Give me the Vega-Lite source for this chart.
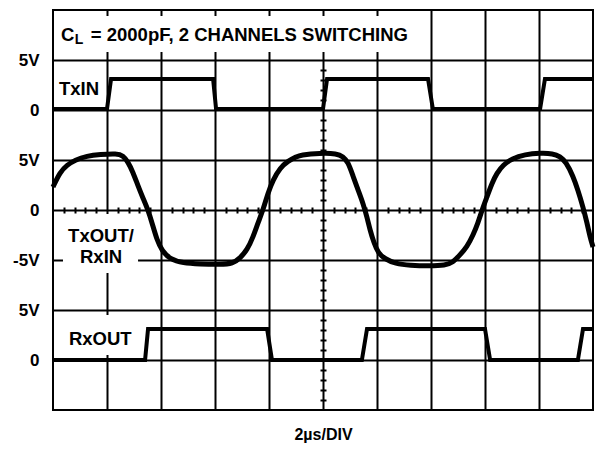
{
  "$schema": "https://vega.github.io/schema/vega-lite/v6.json",
  "width": 540,
  "height": 400,
  "autosize": {"type": "none"},
  "padding": {"left": 53, "top": 10, "right": 5, "bottom": 39},
  "background": "white",
  "config": {
    "view": {"stroke": "black", "strokeWidth": 2},
    "font": "Liberation Sans",
    "axis": {
      "labelFont": "Liberation Sans",
      "labelFontSize": 17,
      "labelFontWeight": "bold",
      "labelColor": "black",
      "tickColor": "black",
      "gridColor": "black",
      "gridWidth": 2,
      "gridOpacity": 1,
      "domain": false,
      "labelOverlap": false,
      "labelFlush": false
    }
  },
  "datasets": {
    "txin": [
      {"t": 0, "v": 0.1}, {"t": 2.0, "v": 0.1}, {"t": 2.15, "v": 3.1}, {"t": 5.93, "v": 3.1}, {"t": 6.04, "v": 0.1},
      {"t": 10.0, "v": 0.1}, {"t": 10.15, "v": 3.1}, {"t": 13.89, "v": 3.1}, {"t": 14.07, "v": 0.1},
      {"t": 18.04, "v": 0.1}, {"t": 18.22, "v": 3.1}, {"t": 20, "v": 3.1}
    ],
    "rxout": [
      {"t": 0, "v": 0}, {"t": 3.41, "v": 0}, {"t": 3.52, "v": 3.1}, {"t": 7.93, "v": 3.1}, {"t": 8.11, "v": 0},
      {"t": 11.44, "v": 0}, {"t": 11.63, "v": 3.1}, {"t": 16.0, "v": 3.1}, {"t": 16.19, "v": 0},
      {"t": 19.44, "v": 0}, {"t": 19.63, "v": 3.1}, {"t": 20, "v": 3.1}
    ],
    "txout": [
      {"t": 0, "v": 2.3}, {"t": 0.26, "v": 3.8}, {"t": 0.52, "v": 4.5}, {"t": 0.81, "v": 5.0}, {"t": 1.26, "v": 5.4},
      {"t": 1.74, "v": 5.55}, {"t": 2.37, "v": 5.65}, {"t": 2.59, "v": 5.45}, {"t": 2.78, "v": 4.8}, {"t": 2.96, "v": 3.8},
      {"t": 3.15, "v": 2.4}, {"t": 3.33, "v": 1.2}, {"t": 3.52, "v": 0}, {"t": 3.67, "v": -1.3}, {"t": 3.85, "v": -3.0},
      {"t": 4.04, "v": -4.1}, {"t": 4.33, "v": -4.9}, {"t": 4.81, "v": -5.3}, {"t": 5.44, "v": -5.4}, {"t": 6.19, "v": -5.45},
      {"t": 6.67, "v": -5.35}, {"t": 6.93, "v": -4.8}, {"t": 7.19, "v": -4.0}, {"t": 7.41, "v": -2.7}, {"t": 7.59, "v": -1.3},
      {"t": 7.78, "v": 0}, {"t": 7.96, "v": 1.7}, {"t": 8.15, "v": 3.0}, {"t": 8.41, "v": 4.2}, {"t": 8.70, "v": 4.9},
      {"t": 9.04, "v": 5.35}, {"t": 9.15, "v": 5.5}, {"t": 9.89, "v": 5.7}, {"t": 10.52, "v": 5.65}, {"t": 10.74, "v": 5.35},
      {"t": 10.93, "v": 4.8}, {"t": 11.11, "v": 3.4}, {"t": 11.30, "v": 2.0}, {"t": 11.48, "v": 0.7}, {"t": 11.63, "v": -0.7},
      {"t": 11.74, "v": -2.0}, {"t": 11.89, "v": -3.3}, {"t": 12.04, "v": -4.3}, {"t": 12.30, "v": -4.9}, {"t": 12.67, "v": -5.35},
      {"t": 13.22, "v": -5.55}, {"t": 13.96, "v": -5.6}, {"t": 14.52, "v": -5.55}, {"t": 14.81, "v": -5.25}, {"t": 15.07, "v": -4.5},
      {"t": 15.33, "v": -3.7}, {"t": 15.56, "v": -2.5}, {"t": 15.74, "v": -1.3}, {"t": 15.89, "v": 0}, {"t": 16.07, "v": 1.3},
      {"t": 16.26, "v": 2.7}, {"t": 16.44, "v": 3.7}, {"t": 16.67, "v": 4.5}, {"t": 17.0, "v": 5.15}, {"t": 17.48, "v": 5.55},
      {"t": 18.04, "v": 5.7}, {"t": 18.52, "v": 5.65}, {"t": 18.78, "v": 5.35}, {"t": 19.0, "v": 4.8}, {"t": 19.26, "v": 3.4},
      {"t": 19.44, "v": 2.0}, {"t": 19.63, "v": 0.3}, {"t": 19.78, "v": -1.3}, {"t": 19.89, "v": -2.7}, {"t": 20, "v": -3.7}
    ],
    "boxes": [
      {"t0": 0.07, "t1": 13.6, "d0": 7.16, "d1": 7.88},
      {"t0": 0.37, "t1": 3.15, "d0": 2.74, "d1": 3.92},
      {"t0": 0.44, "t1": 3.04, "d0": 1.1, "d1": 1.9}
    ],
    "labels": [
      {"t": 0.30, "d": 7.38, "label": "C"},
      {"t": 1.40, "d": 7.38, "label": "= 2000pF, 2 CHANNELS SWITCHING"},
      {"t": 0.22, "d": 6.3, "label": "TxIN"},
      {"t": 0.56, "d": 3.36, "label": "TxOUT/"},
      {"t": 1.0, "d": 2.94, "label": "RxIN"},
      {"t": 0.59, "d": 1.3, "label": "RxOUT"}
    ],
    "sub": [
      {"t": 0.81, "d": 7.32, "label": "L"}
    ]
  },
  "layer": [
    {
      "data": {"name": "boxes"},
      "mark": {"type": "rect", "fill": "white", "strokeWidth": 0},
      "encoding": {
        "x": {"field": "t0", "type": "quantitative", "scale": {"domain": [0, 20]}, "axis": null},
        "x2": {"field": "t1"},
        "y": {"field": "d0", "type": "quantitative", "scale": {"domain": [0, 8]},
          "axis": {"orient": "left", "offset": -270, "labels": false, "grid": false, "ticks": true, "tickSize": 3, "tickWidth": 2, "title": null,
            "values": [0.2,0.4,0.6,0.8,1.2,1.4,1.6,1.8,2.2,2.4,2.6,2.8,3.2,3.4,3.6,3.8,4.2,4.4,4.6,4.8,5.2,5.4,5.6,5.8,6.2,6.4,6.6,6.8,7.2,7.4,7.6,7.8]}},
        "y2": {"field": "d1"}
      }
    },
    {
      "data": {"name": "txout"},
      "mark": {"type": "line", "color": "black", "strokeWidth": 5, "interpolate": "basis"},
      "encoding": {
        "x": {"field": "t", "type": "quantitative", "scale": {"domain": [0, 20]},
          "axis": {"orient": "bottom", "values": [2,4,6,8,10,12,14,16,18], "grid": true, "labels": false, "ticks": false,
            "title": "2µs/DIV", "titleFont": "Liberation Sans", "titleFontSize": 16, "titleFontWeight": "bold", "titleColor": "black", "titlePadding": 16}},
        "y": {"field": "v", "type": "quantitative", "scale": {"domain": [-20, 20]},
          "axis": {"orient": "left", "values": [-15,-10,-5,0,5,10,15], "grid": true, "ticks": false, "labelPadding": 14, "title": null,
            "labelExpr": "datum.value == 0 ? '0' : (abs(datum.value) == 5 ? datum.value + 'V' : '')"}}
      }
    },
    {
      "data": {"name": "txin"},
      "mark": {"type": "line", "color": "black", "strokeWidth": 4},
      "encoding": {
        "x": {"field": "t", "type": "quantitative", "scale": {"domain": [0, 20]},
          "axis": {"orient": "bottom", "offset": -200, "labels": false, "grid": false, "ticks": true, "tickSize": 3, "tickWidth": 2, "title": null,
            "values": [0.4,0.8,1.2,1.6,2.4,2.8,3.2,3.6,4.4,4.8,5.2,5.6,6.4,6.8,7.2,7.6,8.4,8.8,9.2,9.6,10.4,10.8,11.2,11.6,12.4,12.8,13.2,13.6,14.4,14.8,15.2,15.6,16.4,16.8,17.2,17.6,18.4,18.8,19.2,19.6]}},
        "y": {"field": "v", "type": "quantitative", "scale": {"domain": [-30, 10]},
          "axis": {"orient": "left", "values": [0, 5], "grid": false, "ticks": false, "labelPadding": 14, "title": null,
            "labelExpr": "datum.value == 0 ? '0' : '5V'"}}
      }
    },
    {
      "data": {"name": "rxout"},
      "mark": {"type": "line", "color": "black", "strokeWidth": 4},
      "encoding": {
        "x": {"field": "t", "type": "quantitative", "scale": {"domain": [0, 20]},
          "axis": {"orient": "top", "offset": -200, "labels": false, "grid": false, "ticks": true, "tickSize": 3, "tickWidth": 2, "title": null,
            "values": [0.4,0.8,1.2,1.6,2.4,2.8,3.2,3.6,4.4,4.8,5.2,5.6,6.4,6.8,7.2,7.6,8.4,8.8,9.2,9.6,10.4,10.8,11.2,11.6,12.4,12.8,13.2,13.6,14.4,14.8,15.2,15.6,16.4,16.8,17.2,17.6,18.4,18.8,19.2,19.6]}},
        "y": {"field": "v", "type": "quantitative", "scale": {"domain": [-5, 35]},
          "axis": {"orient": "left", "values": [0, 5], "grid": false, "ticks": false, "labelPadding": 14, "title": null,
            "labelExpr": "datum.value == 0 ? '0' : '5V'"}}
      }
    },
    {
      "data": {"name": "labels"},
      "mark": {"type": "text", "align": "left", "baseline": "alphabetic", "font": "Liberation Sans", "fontSize": 18.5, "fontWeight": "bold", "color": "black"},
      "encoding": {
        "x": {"field": "t", "type": "quantitative", "scale": {"domain": [0, 20]}, "axis": null},
        "y": {"field": "d", "type": "quantitative", "scale": {"domain": [0, 8]},
          "axis": {"orient": "right", "offset": -270, "labels": false, "grid": false, "ticks": true, "tickSize": 3, "tickWidth": 2, "title": null,
            "values": [0.2,0.4,0.6,0.8,1.2,1.4,1.6,1.8,2.2,2.4,2.6,2.8,3.2,3.4,3.6,3.8,4.2,4.4,4.6,4.8,5.2,5.4,5.6,5.8,6.2,6.4,6.6,6.8,7.2,7.4,7.6,7.8]}},
        "text": {"field": "label"}
      }
    },
    {
      "data": {"name": "sub"},
      "mark": {"type": "text", "align": "left", "baseline": "alphabetic", "font": "Liberation Sans", "fontSize": 14, "fontWeight": "bold", "color": "black"},
      "encoding": {
        "x": {"field": "t", "type": "quantitative", "scale": {"domain": [0, 20]}, "axis": null},
        "y": {"field": "d", "type": "quantitative", "scale": {"domain": [0, 8]}, "axis": null},
        "text": {"field": "label"}
      }
    }
  ],
  "resolve": {"scale": {"y": "independent"}, "axis": {"x": "independent", "y": "independent"}}
}
